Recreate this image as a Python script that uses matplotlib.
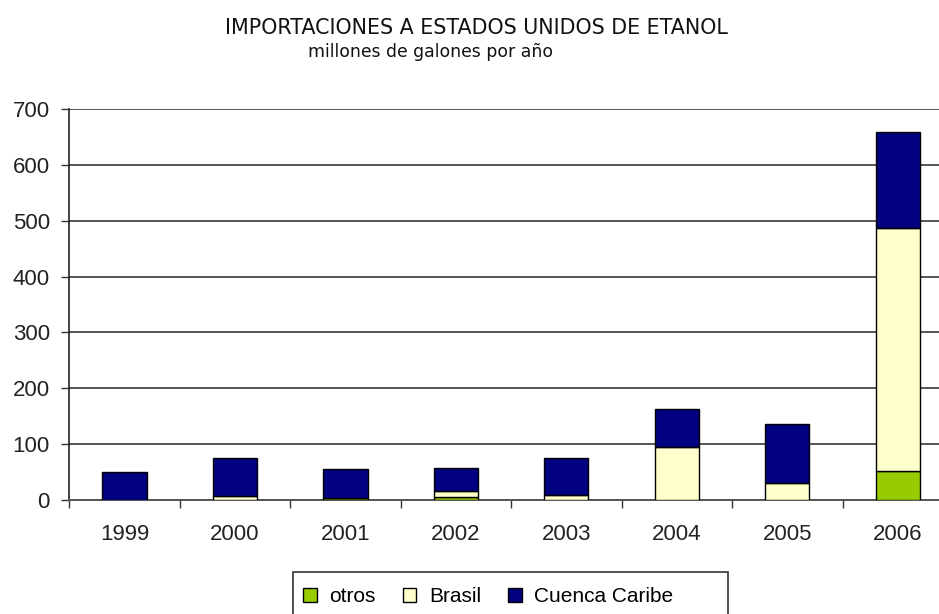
import matplotlib
matplotlib.use("Agg")
import matplotlib.pyplot as plt
from matplotlib.patches import Rectangle
import numpy as np

years = ["1999", "2000", "2001", "2002", "2003", "2004", "2005", "2006"]
otros = [0, 0, 4, 5, 0, 0, 0, 52]
brasil = [0, 8, 0, 11, 9, 95, 30, 435]
caribe = [50, 67, 51, 42, 66, 68, 106, 172]
yticks = [0, 100, 200, 300, 400, 500, 600, 700]

W, H = 939, 614
fig = plt.figure(figsize=(W / 100, H / 100), dpi=100)
plt.rcParams['font.family'] = ['Liberation Sans', 'DejaVu Sans']

left, right = 69.25, 953
y0, y700 = 500, 109
ax = fig.add_axes([left / W, (H - y0) / H, (right - left) / W, (y0 - y700) / H])

x = np.arange(len(years))
bw = 0.4
kw = dict(width=bw, edgecolor='black', linewidth=1.0, zorder=3)
b1 = ax.bar(x, otros, color='#99CC00', label='otros', **kw)
b2 = ax.bar(x, brasil, bottom=otros, color='#FFFFCC', label='Brasil', **kw)
bot2 = np.array(otros) + np.array(brasil)
b3 = ax.bar(x, caribe, bottom=bot2, color='#000080', label='Cuenca Caribe', **kw)

ax.set_xlim(-0.5, len(years) - 0.5)
ax.set_ylim(0, 700)
ax.set_yticks(yticks)
ax.set_yticklabels([str(v) for v in yticks], fontsize=16, color='#222222')
ax.set_xticks(x)
ax.set_xticklabels(years, fontsize=16, color='#222222')
ax.set_xticks(np.arange(-0.5, len(years), 1.0), minor=True)
ax.tick_params(axis='x', which='major', length=0, pad=17)
ax.tick_params(axis='x', which='minor', length=6, width=1, color='#333333', direction='out')
ax.tick_params(axis='y', length=6, width=1, color='#333333', direction='out', pad=8)

for v in yticks:
    ax.axhline(v, color='#555555', linewidth=1.4, zorder=1)

for s in ['top', 'right']:
    ax.spines[s].set_visible(False)
ax.spines['left'].set_color('#222222')
ax.spines['left'].set_linewidth(1.2)
ax.spines['bottom'].set_color('#555555')
ax.spines['bottom'].set_linewidth(1.4)

fig.text(476 / W, 1 - 34 / H, "IMPORTACIONES A ESTADOS UNIDOS DE ETANOL",
         ha='center', va='baseline', fontsize=14.9, family=['DejaVu Sans'], color='#111111')
fig.text(431 / W, 1 - 57 / H, "millones de galones por año",
         ha='center', va='baseline', fontsize=12.4, family=['DejaVu Sans'], color='#111111')

leg = fig.legend(handles=[b1, b2, b3], loc='upper left',
                 bbox_to_anchor=(293 / W, 1 - 577 / H), ncol=3,
                 frameon=False, fontsize=15,
                 handlelength=0.65, handleheight=0.65, handletextpad=0.6,
                 columnspacing=1.3, borderpad=0.5, borderaxespad=0)
fig.patches.append(Rectangle((293 / W, -10 / H), (728 - 293) / W, (614 - 572 + 10) / H,
                             transform=fig.transFigure, fill=False,
                             edgecolor='#333333', linewidth=1.2, zorder=5))

fig.savefig("out.png", dpi=100)
